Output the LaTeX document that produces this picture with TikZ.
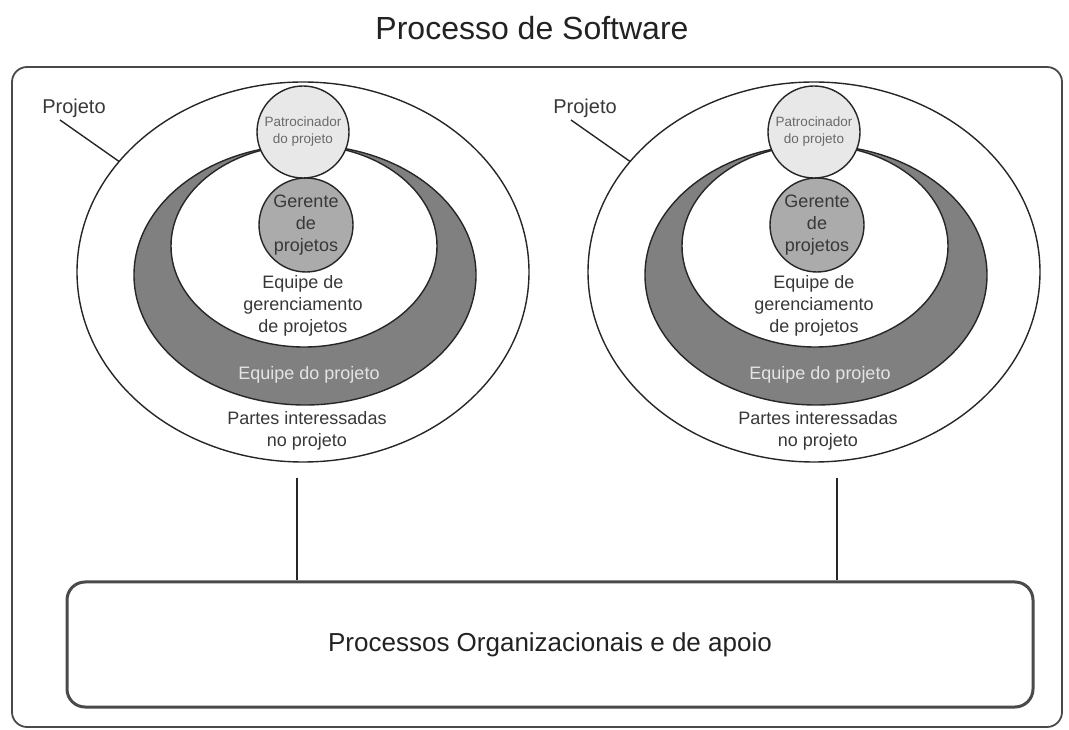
\documentclass[tikz,border=0pt]{standalone}
\usepackage{fontspec}
\setmainfont{Liberation Sans}
\usetikzlibrary{positioning,shapes.geometric}

\definecolor{linegray}{HTML}{262626}
\definecolor{framegray}{HTML}{4A4A4A}
\definecolor{textgray}{HTML}{383838}
\definecolor{darktext}{HTML}{222222}
\definecolor{ringgray}{HTML}{808080}
\definecolor{midgray}{HTML}{ABABAB}
\definecolor{palegray}{HTML}{E8E8E8}
\definecolor{ringtext}{HTML}{E4E4E4}

\tikzset{
  elip/.style={ellipse, draw=linegray, line width=1.4pt, inner sep=0pt, outer sep=0pt},
  circ/.style={circle, draw=linegray, line width=1.4pt, inner sep=0pt, outer sep=0pt,
    minimum size=#1, align=center},
  lbl/.style={align=center, text=textgray, inner sep=0pt,
    font=\fontsize{18}{22}\selectfont},
}

\begin{document}
\begin{tikzpicture}[x=1pt,y=1pt]
  \useasboundingbox (0,0) rectangle (1069,729);

  \node[text=darktext] (titulo) at (532,701) {\fontsize{32}{38}\selectfont Processo de Software};
  \draw[rounded corners=15pt, line width=1.8pt, draw=framegray] (12,2) rectangle (1062,662);

  \foreach \g/\dx/\lx in {a/0/297, b/511/837} {
    \begin{scope}[xshift=\dx pt]
      \node[elip, fill=white, minimum width=452pt, minimum height=380pt] (outer-\g) at (303,457) {};
      \node[elip, fill=ringgray, minimum width=342pt, minimum height=260pt] (ring-\g) at (305,454) {};
      \node[elip, fill=white, minimum width=266pt, minimum height=202pt] (inner-\g) at (304,483) {};
      \node[circ=94pt, fill=midgray, text=textgray, font=\fontsize{18}{22}\selectfont]
        (ger-\g) at (306,504) {Gerente\\de\\projetos};
      \node[circ=92pt, fill=palegray, text=textgray!75, font=\fontsize{13.5}{17}\selectfont,
        above=0pt of ger-\g, xshift=-3pt] (pat-\g) {Patrocinador\\do projeto};
      \node[lbl] (eqger-\g) at (303,423) {Equipe de\\gerenciamento\\de projetos};
      \node[lbl, text=ringtext] (eqproj-\g) at (309,354) {Equipe do projeto};
      \node[lbl] (partes-\g) at (307,298) {Partes interessadas\\no projeto};
      \node[text=textgray, font=\fontsize{20}{24}\selectfont] (proj-\g) at (74,621) {Projeto};
      \coordinate (projtip-\g) at (60,609);
      \draw[line width=1.4pt, draw=linegray] (projtip-\g) -- (outer-\g.149);
    \end{scope}
    \coordinate (drop-\g) at (\lx,251);
  }

  \node[draw=framegray, line width=3pt, rounded corners=18pt, minimum width=966pt,
    minimum height=125pt, text=darktext, font=\fontsize{26}{30}\selectfont]
    (apoio) at (550,84.5) {Processos Organizacionais e de apoio};

  \draw[line width=1.6pt, draw=linegray] (drop-a) -- (drop-a |- apoio.north);
  \draw[line width=1.6pt, draw=linegray] (drop-b) -- (drop-b |- apoio.north);
\end{tikzpicture}
\end{document}
